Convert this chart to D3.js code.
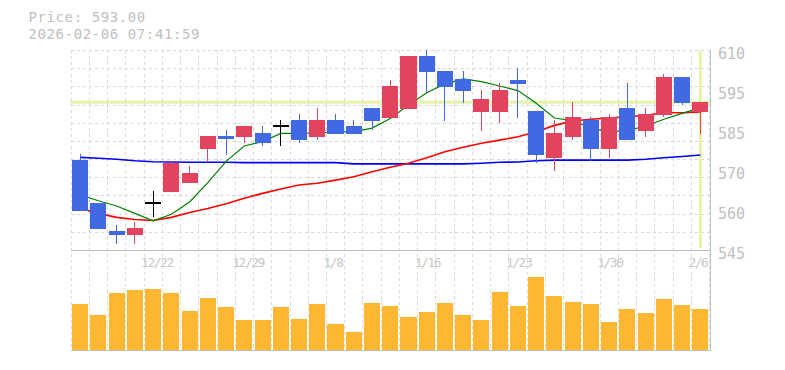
<!DOCTYPE html>
<html><head><meta charset="utf-8">
<script src="https://cdn.jsdelivr.net/npm/d3@7"></script>
<style>html,body{margin:0;padding:0;background:#fff;} svg{display:block;}</style>
</head><body>
<svg id="chart" width="785" height="370"></svg>
<script>
// ---- data ----
const dates = ["12/16","12/17","12/18","12/19","12/22","12/23","12/24","12/25","12/26","12/29","12/30",
  "1/5","1/6","1/7","1/8","1/9","1/13","1/14","1/15","1/16","1/19","1/20","1/21","1/22","1/23",
  "1/26","1/27","1/28","1/29","1/30","2/2","2/3","2/4","2/5","2/6"];
const opens  = [574.3,560.4,551.2,549.9,560.2,563.9,566.9,577.9,582.0,581.8,583.0,585.3,587.2,581.8,587.2,585.3,591.1,588.0,590.8,608.0,603.2,600.5,589.9,589.9,600.2,590.2,575.0,581.8,587.2,577.8,591.1,583.7,588.9,601.2,590.0];
const highs  = [576.2,560.4,553.1,554.1,564.2,574.0,572.3,582.0,584.0,585.3,585.3,587.2,589.2,591.1,589.2,587.2,591.1,600.2,608.0,610.0,603.2,603.2,597.0,599.2,604.2,590.2,587.2,593.0,588.1,589.2,599.3,591.1,602.2,601.2,593.0];
const lows   = [557.8,551.9,547.0,547.0,555.8,563.9,566.9,574.0,576.0,579.9,578.9,578.9,579.9,580.8,582.8,582.8,584.0,588.0,590.8,595.9,587.0,592.9,583.8,586.2,588.0,573.2,570.8,580.8,574.0,575.0,580.8,581.8,588.1,592.0,582.7];
const closes = [557.8,551.9,549.9,552.2,560.2,573.2,570.1,582.0,581.0,585.3,579.9,585.3,580.8,587.2,582.8,582.8,587.0,598.3,608.0,602.9,598.1,596.8,594.1,597.0,599.0,576.0,583.0,588.1,577.8,588.1,580.8,589.2,601.2,592.9,593.0];
const volumes = [92,70,114,120,122,114,78,104,86,60,60,86,62,92,52,36,94,88,66,76,94,70,60,116,88,146,108,96,92,56,82,74,102,90,82];
const ma5  = [562.9,561.0,559.3,556.9,554.5,556.6,560.6,566.9,573.8,578.8,580.2,582.9,582.9,583.1,583.4,583.4,584.6,587.7,592.1,596.1,599.0,600.6,599.7,598.3,596.8,592.7,587.9,587.0,584.6,583.4,583.8,585.3,587.5,589.4,591.2];
const ma25 = [558.6,556.9,555.6,554.9,554.6,555.6,557.2,558.5,560.0,561.8,563.4,564.8,566.1,566.7,567.7,568.8,570.4,571.9,573.2,575.0,576.9,578.4,579.7,580.7,581.8,583.4,585.5,586.9,587.5,587.9,588.3,588.8,589.6,589.6,589.9];
const ma75 = [575.1,574.8,574.5,574.0,573.7,573.6,573.5,573.5,573.5,573.4,573.4,573.4,573.4,573.4,573.4,573.0,573.0,573.0,573.0,573.0,573.0,573.0,573.2,573.5,573.6,574.0,574.2,574.2,574.2,574.2,574.2,574.5,575.0,575.4,575.9];
const xTickDates = ["12/22","12/29","1/8","1/16","1/23","1/30","2/6"];
const yTickValues = [545,558,571,584,597,610];
const yTickLabels = ["545","560","570","585","595","610"];
const lastPrice = 593.00;
const lastTime = "2026-02-06 07:41:59";
const cursorDate = "2/6";

// ---- layout ----
const svg = d3.select("#chart");
svg.append("rect").attr("width",785).attr("height",370).attr("fill","#fff");
const L = 70.5, R = 709.5, T = 50, MB = 250, VB = 350;
const x = d3.scaleBand().domain(dates).range([71, 709.5]).paddingInner(0.12).paddingOuter(0.06);
const y = d3.scaleLinear().domain([545, 610]).range([MB, T]);
const yv = d3.scaleLinear().domain([0, 200]).range([VB, VB - 100]);
const bw = x.bandwidth();
const cx = d => x(d) + bw / 2;
const mono = "'DejaVu Sans Mono', 'Liberation Mono', monospace";
const grey = "#c0c0c0";
const gridC = "#d9d9d9";
const dash = "3,3";

// grid
const gGrid = svg.append("g").attr("shape-rendering","crispEdges");
const hGrid = d3.range(12).map(k => 545 + k * 65 / 11);
gGrid.selectAll("line.h").data(hGrid).join("line")
  .attr("x1", L).attr("x2", R).attr("y1", d => Math.round(y(d)) + 0.5).attr("y2", d => Math.round(y(d)) + 0.5)
  .attr("stroke", gridC).attr("stroke-dasharray", dash);
const vGrid = dates.map(d => x(d) - 1.5).concat([x(dates[dates.length-1]) - 1.5 + x.step()]);
gGrid.selectAll("line.v").data(vGrid).join("line")
  .attr("x1", d => Math.round(d) + 0.5).attr("x2", d => Math.round(d) + 0.5)
  .attr("y1", T).attr("y2", VB)
  .attr("stroke", gridC).attr("stroke-dasharray", dash);

// crosshair
const hairC = "#e4f4a6";
svg.append("line").attr("x1", L).attr("x2", R + 1).attr("y1", y(lastPrice)).attr("y2", y(lastPrice))
  .attr("stroke", hairC).attr("stroke-width", 3);
svg.append("line").attr("x1", cx(cursorDate)).attr("x2", cx(cursorDate)).attr("y1", T + 1).attr("y2", MB - 2)
  .attr("stroke", hairC).attr("stroke-width", 3);

// MA lines
const line = arr => d3.line().x((d, i) => cx(dates[i])).y(d => y(d))(arr);
svg.append("path").attr("d", line(ma75)).attr("fill","none").attr("stroke","#0000ff").attr("stroke-width",1.6);
svg.append("path").attr("d", line(ma25)).attr("fill","none").attr("stroke","#ff0000").attr("stroke-width",1.6);
svg.append("path").attr("d", line(ma5)).attr("fill","none").attr("stroke","#008000").attr("stroke-width",1.2);

// candles
const upC = "#e2435f", downC = "#4169e1";
const candles = dates.map((d, i) => ({d, o: opens[i], h: highs[i], l: lows[i], c: closes[i]}));
const colorOf = k => k.c > k.o ? upC : (k.c < k.o ? downC : "#000");
const gC = svg.append("g").attr("shape-rendering","crispEdges");
gC.selectAll("line.w").data(candles).join("line")
  .attr("x1", k => Math.floor(cx(k.d)) + 0.5).attr("x2", k => Math.floor(cx(k.d)) + 0.5)
  .attr("y1", k => y(k.h)).attr("y2", k => y(k.l))
  .attr("stroke", colorOf).attr("stroke-width", k => k.c === k.o ? 1.5 : 1.2);
gC.selectAll("rect.b").data(candles.filter(k => k.c !== k.o)).join("rect")
  .attr("x", k => x(k.d)).attr("width", bw)
  .attr("y", k => y(Math.max(k.o, k.c))).attr("height", k => Math.abs(y(k.o) - y(k.c)))
  .attr("fill", colorOf);
gC.selectAll("line.doji").data(candles.filter(k => k.c === k.o)).join("line")
  .attr("x1", k => x(k.d)).attr("x2", k => x(k.d) + bw)
  .attr("y1", k => y(k.o)).attr("y2", k => y(k.o))
  .attr("stroke", "#000").attr("stroke-width", 1.5);

// volume
svg.append("g").attr("shape-rendering","crispEdges").selectAll("rect").data(volumes).join("rect")
  .attr("x", (v, i) => x(dates[i])).attr("width", bw)
  .attr("y", v => yv(v)).attr("height", v => VB - yv(v))
  .attr("fill", "#feb733");

// borders
const gB = svg.append("g").attr("shape-rendering","crispEdges").attr("stroke", grey);
gB.append("line").attr("x1", L).attr("x2", 711).attr("y1", MB + 0.5).attr("y2", MB + 0.5);
gB.append("line").attr("x1", L).attr("x2", 711).attr("y1", VB + 0.5).attr("y2", VB + 0.5);
gB.append("line").attr("x1", 710.5).attr("x2", 710.5).attr("y1", T).attr("y2", VB + 1);

// y axis labels
svg.append("g").selectAll("text").data(yTickValues).join("text")
  .attr("x", 718).attr("y", v => y(v) + 8.5)
  .attr("font-family", mono).attr("font-size", 15).attr("fill", grey)
  .text((v, i) => yTickLabels[i]);

// x labels
svg.append("g").selectAll("text").data(xTickDates).join("text")
  .attr("x", d => cx(d) - 12).attr("y", 266.5)
  .attr("font-family", mono).attr("font-size", 13).attr("letter-spacing", "-1.5px").attr("fill", "#c8c8c8")
  .text(d => d);

// header
svg.append("text").attr("x", 28.5).attr("y", 22).attr("font-family", mono).attr("font-size", 14)
  .attr("letter-spacing", "0.6px").attr("fill", grey)
  .text("Price: " + lastPrice.toFixed(2));
svg.append("text").attr("x", 28.5).attr("y", 38.5).attr("font-family", mono).attr("font-size", 14)
  .attr("letter-spacing", "0.6px").attr("fill", grey)
  .text(lastTime);
</script>
</body></html>
